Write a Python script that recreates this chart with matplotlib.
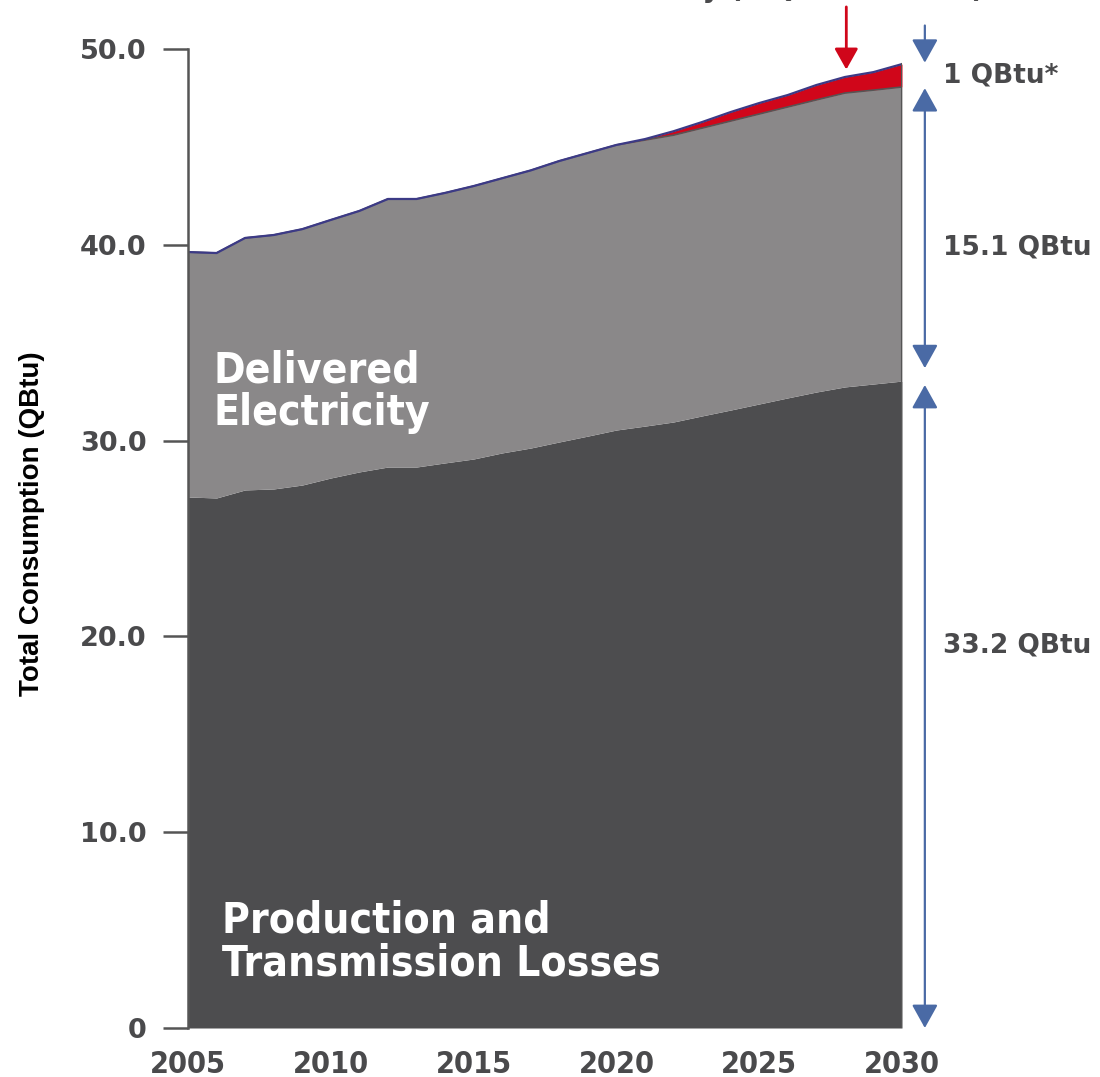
import matplotlib
matplotlib.use("Agg")
import matplotlib.pyplot as plt
import numpy as np

years = list(range(2005, 2031))
losses = [27.12, 27.07, 27.48, 27.53, 27.73, 28.09, 28.40, 28.65, 28.65, 28.86,
          29.06, 29.37, 29.62, 29.93, 30.23, 30.54, 30.74, 30.95, 31.26, 31.56,
          31.87, 32.18, 32.48, 32.74, 32.89, 33.04]
delivered_total = [39.63, 39.58, 40.35, 40.50, 40.80, 41.27, 41.73, 42.34, 42.34, 42.65,
                   43.00, 43.40, 43.80, 44.28, 44.69, 45.10, 45.35, 45.60, 45.96, 46.32,
                   46.68, 47.04, 47.40, 47.75, 47.90, 48.06]
total = [39.63, 39.58, 40.35, 40.50, 40.80, 41.27, 41.73, 42.34, 42.34, 42.65,
         43.00, 43.40, 43.80, 44.28, 44.69, 45.10, 45.40, 45.80, 46.27, 46.78,
         47.24, 47.65, 48.16, 48.57, 48.82, 49.23]
yticks = [0, 10, 20, 30, 40, 50]
ytick_labels = ["0", "10.0", "20.0", "30.0", "40.0", "50.0"]
xticks = [2005, 2010, 2015, 2020, 2025, 2030]

DARK = "#4d4d4f"
GRAY = "#8a8889"
RED = "#d0061a"
NAVY = "#3c3a86"
BLUE = "#4a6aa5"
TXT = "#4a4a4c"

fig = plt.figure(figsize=(11, 10.77), dpi=100)
ax = fig.add_axes([188/1100, 1-1028/1077, (902-188)/1100, (1028-49)/1077])

x = np.array(years)
ax.fill_between(x, 0, losses, color=DARK, lw=0)
ax.fill_between(x, losses, delivered_total, color=GRAY, lw=0)
ax.fill_between(x, delivered_total, total, color=RED, lw=0)
ax.plot(x, delivered_total, color="#555555", lw=1.2)
ax.plot(x, total, color=NAVY, lw=1.6)
ax.plot([2030, 2030], [0, total[-1]], color="#555555", lw=1.5)

ax.set_xlim(2005, 2030)
ax.set_ylim(0, 50)
for s in ["top", "right", "bottom"]:
    ax.spines[s].set_visible(False)
ax.spines["left"].set_color("#555555")
ax.spines["left"].set_linewidth(1.8)
ax.set_yticks(yticks)
ax.set_yticklabels(ytick_labels)
ax.tick_params(axis="y", length=18, width=1.8, color="#555555", pad=12,
               labelsize=19.5, labelcolor=TXT)
for t in ax.get_yticklabels():
    t.set_fontweight("bold")
    t.set_family(["DejaVu Sans"])

cond = dict(family=["DejaVu Sans"], fontstretch="condensed", fontweight="bold")
ax.set_xticks(xticks)
ax.set_xticklabels([str(v) for v in xticks])
ax.tick_params(axis="x", length=0, pad=16, labelsize=22, labelcolor=TXT)
for t in ax.get_xticklabels():
    t.set_fontweight("bold")
    t.set_family(["DejaVu Sans"])
    t.set_fontstretch("condensed")

ax.set_ylabel("Total Consumption (QBtu)", fontsize=20, fontweight="bold",
              color="black", family=["Liberation Sans", "DejaVu Sans"])
ax.yaxis.set_label_coords(-0.2, 0.515)

ax.text(2005.9, 32.5, "Delivered\nElectricity", color="white", fontsize=30.5,
        va="center", ha="left", linespacing=1.0, **cond)
ax.text(2006.2, 4.4, "Production and\nTransmission Losses", color="white", fontsize=30.5,
        va="center", ha="left", linespacing=1.05, **cond)

# top annotation (partially cut off by the top edge, as in the reference)
fig.text(0.54, 1 + 3/1077, "Reduction in Delivered Electricity (1 QBtu in 2030)",
         ha="center", va="baseline", fontsize=22, color=TXT, **cond)

# red arrow
ax.annotate("", xy=(2028.05, 48.95), xytext=(2028.05, 52.15),
            arrowprops=dict(arrowstyle="-|>,head_length=0.8,head_width=0.45",
                            color=RED, lw=2, shrinkA=0, shrinkB=0,
                            mutation_scale=16),
            annotation_clip=False)

# blue arrows
xa = 2030.8
ap = dict(color=BLUE, lw=1.6, shrinkA=0, shrinkB=0, mutation_scale=16)
ax.annotate("", xy=(xa, 49.3), xytext=(xa, 51.2),
            arrowprops=dict(arrowstyle="-|>,head_length=0.9,head_width=0.5", **ap),
            annotation_clip=False)
ax.annotate("", xy=(xa, 48.0), xytext=(xa, 33.7),
            arrowprops=dict(arrowstyle="<|-|>,head_length=0.9,head_width=0.5", **ap),
            annotation_clip=False)
ax.annotate("", xy=(xa, 32.84), xytext=(xa, 0.0),
            arrowprops=dict(arrowstyle="<|-|>,head_length=0.9,head_width=0.5", **ap),
            annotation_clip=False)

rlab = dict(ha="left", va="center", fontsize=19, fontweight="bold", color=TXT,
            family=["DejaVu Sans"])
ax.text(2031.45, 48.67, "1 QBtu*", **rlab)
ax.text(2031.45, 39.84, "15.1 QBtu", **rlab)
ax.text(2031.45, 19.56, "33.2 QBtu", **rlab)

fig.savefig("out.png", dpi=100)
